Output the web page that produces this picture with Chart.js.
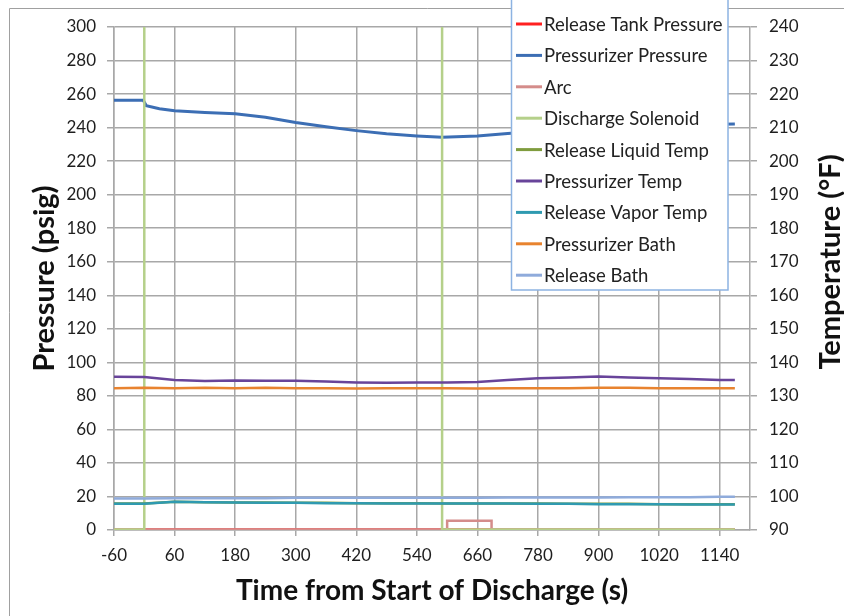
<!DOCTYPE html>
<html>
<head>
<meta charset="utf-8">
<script src="https://cdn.jsdelivr.net/npm/chart.js@4.4.1/dist/chart.umd.min.js"></script>
<style>
  body { margin: 0; background: #fff; }
  #wrap { width: 844px; height: 616px; position: relative; }
</style>
</head>
<body>
<div id="wrap"><canvas id="myChart" width="844" height="616"></canvas></div>
<script>
// x axis ticks (s)
let xTickVals = [-60, 60, 180, 300, 420, 540, 660, 780, 900, 1020, 1140];

// pressure series (psig)
let tankTime = [-60, 1170];
let tankVals = [0.3, 0.3];

let pressTime = [-60, -2, 4, 30, 60, 120, 180, 240, 300, 360, 420, 480, 540, 590, 660, 720, 780, 840, 900, 960, 1020, 1080, 1140, 1170];
let pressVals = [256.3, 256.3, 253, 251.3, 250, 249, 248.3, 246.2, 243, 240.5, 238.2, 236.3, 235, 234.2, 235, 236.5, 237.8, 238.8, 239.8, 240.6, 241.2, 241.7, 242, 242.2];

let arcTime = [-60, 600, 600, 688, 688, 1170];
let arcVals = [0.3, 0.3, 5.5, 5.5, 0.3, 0.3];

let solTime = [-60, 0, 0, 590, 590, 1170];
let solVals = [0.3, 0.3, 400, 400, 0.3, 0.3];

// temperature series (°F)
let tempTime = [-60, 0, 60, 120, 180, 240, 300, 360, 420, 480, 540, 600, 660, 720, 780, 840, 900, 960, 1020, 1080, 1140, 1170];
let liquidTemp = [97.9, 97.9, 98.4, 98.3, 98.2, 98.2, 98.1, 98.1, 98.0, 98.0, 98.0, 97.9, 97.9, 97.9, 97.9, 97.8, 97.8, 97.8, 97.7, 97.7, 97.7, 97.7];
let przTemp = [135.7, 135.6, 134.7, 134.4, 134.6, 134.5, 134.5, 134.25, 134, 133.9, 134, 134, 134.15, 134.75, 135.25, 135.5, 135.75, 135.5, 135.25, 135, 134.75, 134.7];
let vaporTemp = [97.8, 97.8, 98.4, 98.3, 98.2, 98.1, 98.1, 98.0, 98.0, 97.9, 97.9, 97.9, 97.9, 97.9, 97.8, 97.8, 97.7, 97.7, 97.7, 97.6, 97.6, 97.6];
let przBath = [132.3, 132.4, 132.3, 132.4, 132.3, 132.4, 132.3, 132.3, 132.2, 132.3, 132.3, 132.3, 132.2, 132.3, 132.3, 132.3, 132.4, 132.4, 132.3, 132.3, 132.3, 132.3];
let releaseBath = [99.4, 99.4, 99.5, 99.5, 99.5, 99.5, 99.6, 99.6, 99.6, 99.6, 99.6, 99.6, 99.6, 99.7, 99.7, 99.7, 99.7, 99.8, 99.8, 99.8, 99.9, 99.9];

function pts(t, v) {
  return t.map((x, i) => ({ x: x, y: v[i] }));
}

let gridColor = "#A8A8A8";
let textColor = "#1E1E1E";
let fontFam = "Lato, 'Open Sans', sans-serif";
let rightTitle = "Temperature (°F)";

let datasets = [
  { label: "Release Tank Pressure", data: pts(tankTime, tankVals), borderColor: "#FF2020", yAxisID: "y" },
  { label: "Pressurizer Pressure", data: pts(pressTime, pressVals), borderColor: "#3C6EB4", yAxisID: "y", borderWidth: 3 },
  { label: "Arc", data: pts(arcTime, arcVals), borderColor: "#D48C8A", yAxisID: "y" },
  { label: "Discharge Solenoid", data: pts(solTime, solVals), borderColor: "#B5D08A", yAxisID: "y" },
  { label: "Release Liquid Temp", data: pts(tempTime, liquidTemp), borderColor: "#7F9C3E", yAxisID: "y2" },
  { label: "Pressurizer Temp", data: pts(tempTime, przTemp), borderColor: "#68449A", yAxisID: "y2" },
  { label: "Release Vapor Temp", data: pts(tempTime, vaporTemp), borderColor: "#2F9AB0", yAxisID: "y2" },
  { label: "Pressurizer Bath", data: pts(tempTime, przBath), borderColor: "#E8832F", yAxisID: "y2" },
  { label: "Release Bath", data: pts(tempTime, releaseBath), borderColor: "#8FABDB", yAxisID: "y2" },
];
datasets.forEach((d, i) => {
  d.borderWidth = d.borderWidth || 2.5;
  d.pointRadius = 0;
  d.tension = 0;
  d.fill = false;
  d.order = -i; // later series drawn on top, like the original
});

// legend box drawn over the plot with a white background, plus the right axis title
let boxLegend = {
  id: "boxLegend",
  afterDraw(chart) {
    let ctx = chart.ctx;
    ctx.save();
    // outer chart border
    ctx.strokeStyle = "#A0A0A0";
    ctx.lineWidth = 1;
    ctx.beginPath();
    ctx.moveTo(9.5, 700);
    ctx.lineTo(9.5, 8.5);
    ctx.lineTo(900, 8.5);
    ctx.stroke();

    ctx.fillStyle = "#fff";
    ctx.fillRect(511, -2, 217, 292);
    ctx.strokeStyle = "#8DB3E2";
    ctx.lineWidth = 1.5;
    ctx.strokeRect(511.5, -2, 216.5, 292);

    ctx.font = "18.5px " + fontFam;
    ctx.textBaseline = "middle";
    ctx.textAlign = "left";
    chart.data.datasets.forEach((d, i) => {
      let y = 24 + i * 31.4;
      ctx.strokeStyle = d.borderColor;
      ctx.lineWidth = 3;
      ctx.beginPath();
      ctx.moveTo(516, y);
      ctx.lineTo(542, y);
      ctx.stroke();
      ctx.fillStyle = "#222";
      ctx.fillText(d.label, 544, y + 1);
    });

    // right axis title, reading bottom to top
    ctx.translate(831, 262);
    ctx.rotate(-Math.PI / 2);
    ctx.font = "bold 29px " + fontFam;
    ctx.textAlign = "center";
    ctx.fillStyle = "#111";
    ctx.fillText(rightTitle, 0, 0);
    ctx.restore();
  }
};

let ctx = document.getElementById("myChart").getContext("2d");
let myChart = new Chart(ctx, {
  type: "line",
  data: { datasets: datasets },
  options: {
    responsive: false,
    animation: false,
    layout: { padding: { top: 27, left: 0, right: 0, bottom: 0 } },
    plugins: { legend: { display: false }, tooltip: { enabled: false } },
    scales: {
      x: {
        type: "linear",
        min: -60,
        max: 1200,
        afterBuildTicks: (scale) => {
          scale.ticks = xTickVals.map((v) => ({ value: v }));
        },
        afterFit: (scale) => { scale.height = 86; },
        ticks: {
          color: textColor,
          font: { family: fontFam, size: 17 },
          padding: 9,
          maxRotation: 0,
          autoSkip: false,
          callback: (v) => String(v)
        },
        grid: { color: gridColor, lineWidth: 1.5, tickLength: 6 },
        border: { color: gridColor, width: 1.5 },
        title: {
          display: true,
          text: "Time from Start of Discharge (s)",
          color: "#111",
          font: { family: fontFam, size: 28, weight: "bold" },
          padding: { top: 0, bottom: 8 }
        }
      },
      y: {
        position: "left",
        min: 0,
        max: 300,
        ticks: { stepSize: 20, color: textColor, font: { family: fontFam, size: 17 }, padding: 11 },
        afterFit: (scale) => { scale.width = 114; },
        grid: { color: gridColor, lineWidth: 1.5, tickLength: 7 },
        border: { color: gridColor, width: 1.5 },
        title: {
          display: true,
          text: "Pressure (psig)",
          color: "#111",
          font: { family: fontFam, size: 29, weight: "bold" },
          padding: { top: 27, bottom: 0 }
        }
      },
      y2: {
        position: "right",
        min: 90,
        max: 240,
        ticks: { stepSize: 10, color: textColor, font: { family: fontFam, size: 17 }, padding: 12 },
        afterFit: (scale) => { scale.width = 94; },
        grid: { drawOnChartArea: false, color: gridColor, lineWidth: 1.5, tickLength: 7 },
        border: { color: gridColor, width: 1.5 },
        title: { display: false }
      }
    }
  },
  plugins: [boxLegend]
});
</script>
</body>
</html>
